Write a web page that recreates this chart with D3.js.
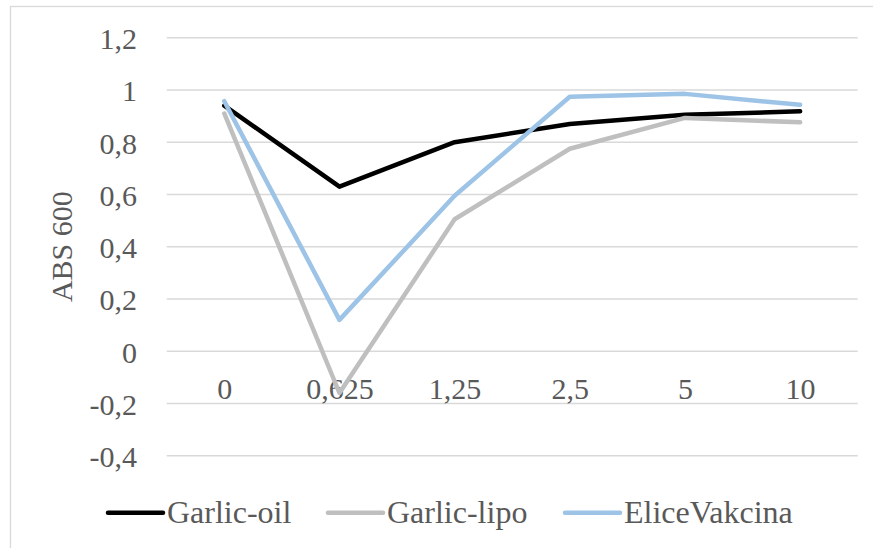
<!DOCTYPE html>
<html>
<head>
<meta charset="utf-8">
<script src="https://cdn.jsdelivr.net/npm/d3@7"></script>
<style>
  html, body { margin: 0; padding: 0; background: #fff; }
  svg { display: block; }
</style>
</head>
<body>
<svg id="chart" width="873" height="548"></svg>
<script>
const categories = ["0", "0,625", "1,25", "2,5", "5", "10"];
const garlicOil = [0.94, 0.63, 0.80, 0.87, 0.905, 0.918];
const garlicLipo = [0.91, -0.16, 0.505, 0.775, 0.893, 0.876];
const eliceVakcina = [0.957, 0.12, 0.595, 0.974, 0.985, 0.943];
const seriesNames = ["Garlic-oil", "Garlic-lipo", "EliceVakcina"];
const seriesColors = ["#000000", "#bfbfbf", "#9dc3e6"];
const yTickValues = [-0.4, -0.2, 0, 0.2, 0.4, 0.6, 0.8, 1, 1.2];
const yTickLabels = ["-0,4", "-0,2", "0", "0,2", "0,4", "0,6", "0,8", "1", "1,2"];
const yTitle = "ABS 600";

const FONT = '"Liberation Serif"';
const series = [garlicOil, garlicLipo, eliceVakcina];
const svg = d3.select("#chart");

// outer chart frame
svg.append("rect")
  .attr("x", 10.5).attr("y", 6.5)
  .attr("width", 900).attr("height", 600)
  .attr("fill", "none").attr("stroke", "#d9d9d9").attr("stroke-width", 1.3);

const pLeft = 166.7, pRight = 857.7, pTop = 37.7, pBottom = 455.7;
const x = d3.scalePoint().domain(categories).range([pLeft, pRight]).padding(0.5);
const y = d3.scaleLinear().domain([-0.4, 1.2]).range([pBottom, pTop]);

// gridlines
svg.append("g").selectAll("line").data(yTickValues).join("line")
  .attr("x1", pLeft).attr("x2", pRight)
  .attr("y1", d => y(d)).attr("y2", d => y(d))
  .attr("stroke", "#d9d9d9").attr("stroke-width", 1.5);

// y axis labels
const yAxis = d3.axisLeft(y).tickValues(yTickValues)
  .tickFormat((d, i) => yTickLabels[i]).tickSize(0).tickPadding(0);
const gy = svg.append("g").attr("transform", "translate(137,0)").call(yAxis);
gy.select(".domain").remove();
gy.attr("font-family", null).attr("font-size", null);
gy.selectAll("text")
  .style("font-family", FONT)
  .style("font-size", "30px").attr("fill", "#595959")
  .attr("dy", "0.36em");

// x axis labels (placed below zero line)
const xAxis = d3.axisBottom(x).tickSize(0).tickPadding(0);
const gx = svg.append("g").attr("transform", `translate(0,${y(0)})`).call(xAxis);
gx.select(".domain").remove();
gx.attr("font-family", null).attr("font-size", null);
gx.selectAll("text")
  .style("font-family", FONT)
  .style("font-size", "30px").attr("fill", "#595959")
  .attr("dy", null).attr("y", 47.5);

// y title
svg.append("text")
  .attr("transform", `translate(72,${(pTop + pBottom) / 2}) rotate(-90)`)
  .attr("text-anchor", "middle")
  .style("font-family", FONT)
  .style("font-size", "30px").attr("fill", "#595959")
  .text(yTitle);

// lines
const line = d3.line().x((d, i) => x(categories[i])).y(d => y(d));
svg.append("g").selectAll("path").data(series).join("path")
  .attr("d", d => line(d))
  .attr("fill", "none")
  .attr("stroke", (d, i) => seriesColors[i])
  .attr("stroke-width", 4.5)
  .attr("stroke-linejoin", "round")
  .attr("stroke-linecap", "round");

// legend
const legendX = [108, 328, 565];
const legendY = 512.7;
const lg = svg.append("g").selectAll("g").data(seriesNames).join("g")
  .attr("transform", (d, i) => `translate(${legendX[i]},${legendY})`);
lg.append("line")
  .attr("x1", 0).attr("x2", 55).attr("y1", 0).attr("y2", 0)
  .attr("stroke", (d, i) => seriesColors[i])
  .attr("stroke-width", 4.5).attr("stroke-linecap", "round");
lg.append("text")
  .attr("x", 59).attr("y", 10.5)
  .style("font-family", FONT)
  .style("font-size", "32px").attr("fill", "#595959")
  .text(d => d);
</script>
</body>
</html>
